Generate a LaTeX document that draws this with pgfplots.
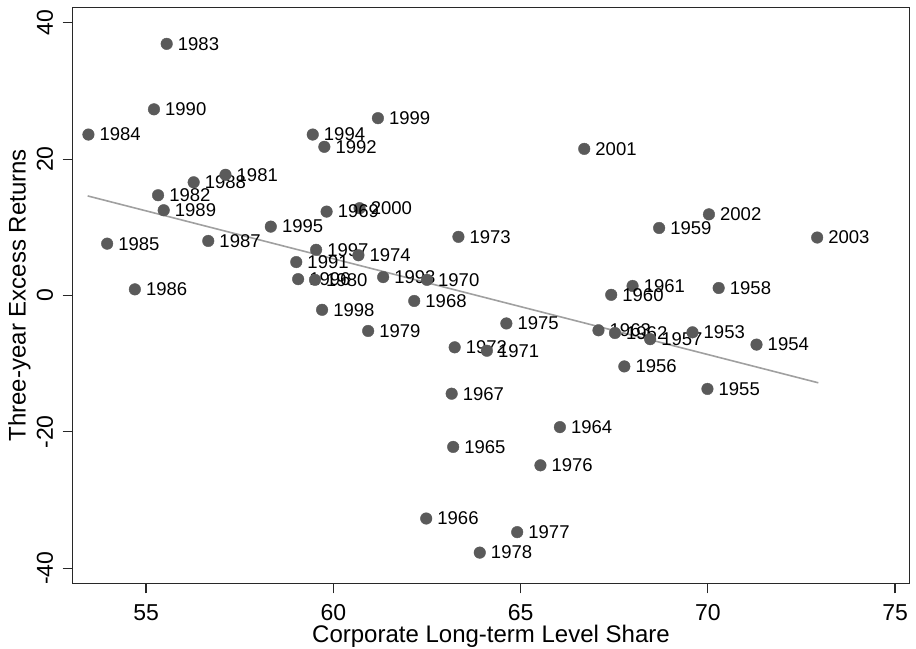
\documentclass[border=0pt]{standalone}
\usepackage{fontspec}
\setmainfont{Liberation Sans}
\usepackage{pgfplots}
\usepackage{pgfplotstable}
\pgfplotsset{compat=1.18}
\definecolor{dotc}{RGB}{90,90,90}
\definecolor{fitc}{RGB}{160,160,160}
\definecolor{axc}{RGB}{40,40,40}
\pgfplotstableread{
x y lab
72.92 8.5 2003
70.03 11.9 2002
66.70 21.5 2001
60.70 12.8 2000
61.19 26.0 1999
59.70 -2.1 1998
59.54 6.7 1997
59.06 2.4 1996
58.33 10.1 1995
59.45 23.6 1994
61.33 2.7 1993
59.76 21.8 1992
59.01 4.9 1991
55.21 27.3 1990
55.47 12.5 1989
56.27 16.6 1988
56.66 8.0 1987
54.70 0.9 1986
53.96 7.6 1985
53.46 23.6 1984
55.55 36.9 1983
55.32 14.7 1982
57.12 17.7 1981
59.51 2.3 1980
60.93 -5.2 1979
63.91 -37.7 1978
64.91 -34.7 1977
65.53 -24.9 1976
64.62 -4.1 1975
60.67 5.9 1974
63.34 8.6 1973
63.24 -7.6 1972
64.10 -8.1 1971
62.50 2.3 1970
59.82 12.3 1969
62.16 -0.8 1968
63.16 -14.4 1967
62.48 -32.7 1966
63.20 -22.2 1965
66.05 -19.3 1964
67.08 -5.1 1963
67.52 -5.5 1962
67.99 1.4 1961
67.42 0.1 1960
68.70 9.9 1959
70.29 1.1 1958
68.46 -6.4 1957
67.77 -10.4 1956
69.99 -13.7 1955
71.30 -7.2 1954
69.59 -5.4 1953
}\pts
\pgfplotstableread{
x y
53.44 14.6
72.95 -12.8
}\fit
\begin{document}
\begin{tikzpicture}
\begin{axis}[
  scale only axis,
  width=836.6pt, height=576pt,
  xmin=53.04, xmax=75.38,
  ymin=-42.2, ymax=42.26,
  axis line style={axc, line width=1.5pt},
  tick style={axc, line width=1.2pt},
  tick align=outside,
  major tick length=10pt,
  xtick={55,60,65,70,75},
  ytick={-40,-20,0,20,40},
  xtick pos=bottom, ytick pos=left,
  minor tick num=0,
  /pgf/number format/assume math mode=true,
  ticklabel style={font=\fontsize{23}{25}\selectfont},
  yticklabel style={rotate=90, anchor=south, inner sep=0pt, yshift=9.4pt},
  xticklabel style={anchor=north, inner sep=0pt, yshift=-11pt},
  xlabel={Corporate Long-term Level Share},
  ylabel={Three-year Excess Returns},
  every axis x label/.style={at={(axis description cs:0.5,0)}, anchor=base, yshift=-59.7pt, font=\fontsize{24}{26}\selectfont},
  every axis y label/.style={at={(axis description cs:-0.0773,0.5)}, anchor=north, rotate=90, inner sep=0pt, font=\fontsize{24}{26}\selectfont},
  clip=false,
]
\addplot[fitc, line width=1.6pt, no markers] table[x=x,y=y] {\fit};
\addplot[only marks, mark=*, mark size=5.8pt, mark options={draw=dotc, fill=dotc},
  point meta=explicit symbolic,
  nodes near coords,
  nodes near coords style={anchor=west, xshift=11pt, font=\fontsize{18.5}{20}\selectfont, text=black, inner sep=0pt}]
  table[x=x,y=y,meta=lab] {\pts};
\end{axis}
\pgfresetboundingbox
\path[use as bounding box] ([shift={(-72.7pt,-65.7pt)}]current axis.south west) rectangle ([shift={(6.7pt,7.3pt)}]current axis.north east);
\end{tikzpicture}
\end{document}
